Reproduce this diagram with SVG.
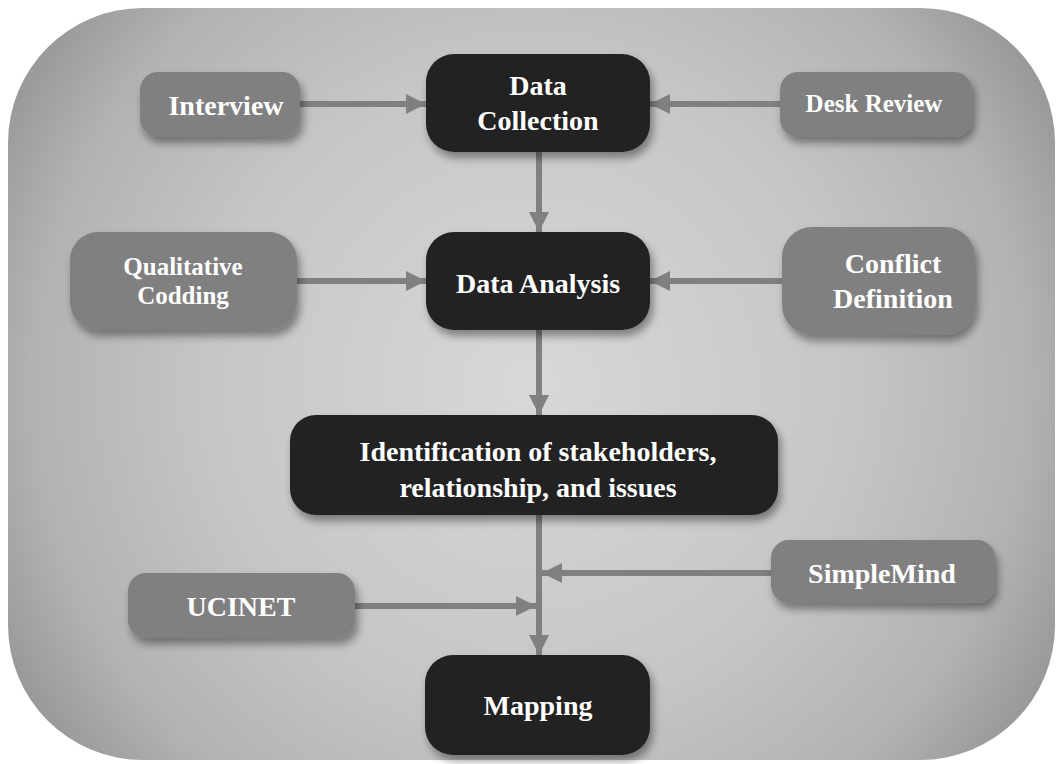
<svg xmlns="http://www.w3.org/2000/svg" width="1059" height="764" viewBox="0 0 1059 764">
<defs>
<radialGradient id="bg" gradientUnits="userSpaceOnUse" cx="531" cy="384" r="640">
<stop offset="0" stop-color="#d8d8d8"/>
<stop offset="0.5" stop-color="#c6c6c6"/>
<stop offset="0.78" stop-color="#b2b2b2"/>
<stop offset="1" stop-color="#8c8c8c"/>
</radialGradient>
<filter id="sh" x="-20%" y="-30%" width="140%" height="170%">
<feDropShadow dx="3" dy="6" stdDeviation="4" flood-color="#000" flood-opacity="0.4"/>
</filter>
<marker id="ah" markerUnits="userSpaceOnUse" markerWidth="20" markerHeight="20" refX="20" refY="10" orient="auto">
<path d="M0,0 L20,10 L0,20 z" fill="#808080"/>
</marker>
</defs>
<style>
.gray{fill:#808080}
.dark{fill:#222222}
.t{font-family:"Liberation Serif","Times New Roman",serif;font-weight:bold;fill:#ffffff;text-anchor:middle;font-size:28px}
.s{font-size:25px}
.c{stroke:#808080;stroke-width:6;fill:none;marker-end:url(#ah)}
.cn{stroke:#808080;stroke-width:6;fill:none}
</style>
<rect width="1059" height="764" fill="#ffffff"/>
<rect id="background" x="8" y="8" width="1047" height="752" rx="135" ry="135" fill="url(#bg)"/>

<g id="connectors">
<line class="c" x1="300" y1="104" x2="426" y2="104"/>
<line class="c" x1="780" y1="104" x2="650" y2="104"/>
<line class="c" x1="539" y1="152" x2="539" y2="232"/>
<line class="c" x1="297" y1="281" x2="426" y2="281"/>
<line class="c" x1="782" y1="281" x2="650" y2="281"/>
<line class="c" x1="539" y1="330" x2="539" y2="415"/>
<line class="c" x1="539" y1="515" x2="539" y2="655"/>
<line class="c" x1="771" y1="573" x2="542" y2="573"/>
<line class="c" x1="355" y1="606" x2="536" y2="606"/>
</g>

<g id="interview">
<rect class="gray" x="140" y="72" width="160" height="65" rx="18" filter="url(#sh)"/>
<text class="t" x="226" y="115">Interview</text>
</g>
<g id="desk-review">
<rect class="gray" x="780" y="72" width="192" height="65" rx="18" filter="url(#sh)"/>
<text class="t s" x="874" y="112">Desk Review</text>
</g>
<g id="data-collection">
<rect class="dark" x="426" y="54" width="224" height="98" rx="28" filter="url(#sh)"/>
<text class="t" x="538" y="95">Data</text>
<text class="t" x="538" y="130">Collection</text>
</g>
<g id="qualitative-codding">
<rect class="gray" x="70" y="232" width="227" height="98" rx="28" filter="url(#sh)"/>
<text class="t s" x="183" y="275">Qualitative</text>
<text class="t s" x="183" y="304">Codding</text>
</g>
<g id="data-analysis">
<rect class="dark" x="426" y="232" width="224" height="98" rx="28" filter="url(#sh)"/>
<text class="t" x="538" y="293">Data Analysis</text>
</g>
<g id="conflict-definition">
<rect class="gray" x="782" y="227" width="193" height="108" rx="30" filter="url(#sh)"/>
<text class="t" x="893" y="273">Conflict</text>
<text class="t" x="893" y="308">Definition</text>
</g>
<g id="identification">
<rect class="dark" x="290" y="415" width="488" height="100" rx="26" filter="url(#sh)"/>
<text class="t" x="538" y="461">Identification of stakeholders,</text>
<text class="t" x="538" y="497">relationship, and issues</text>
</g>
<g id="simplemind">
<rect class="gray" x="771" y="540" width="224" height="63" rx="18" filter="url(#sh)"/>
<text class="t" x="882" y="583">SimpleMind</text>
</g>
<g id="ucinet">
<rect class="gray" x="128" y="573" width="227" height="65" rx="18" filter="url(#sh)"/>
<text class="t" x="241" y="616">UCINET</text>
</g>
<g id="mapping">
<rect class="dark" x="425" y="655" width="225" height="100" rx="28" filter="url(#sh)"/>
<text class="t" x="538" y="715">Mapping</text>
</g>
</svg>
